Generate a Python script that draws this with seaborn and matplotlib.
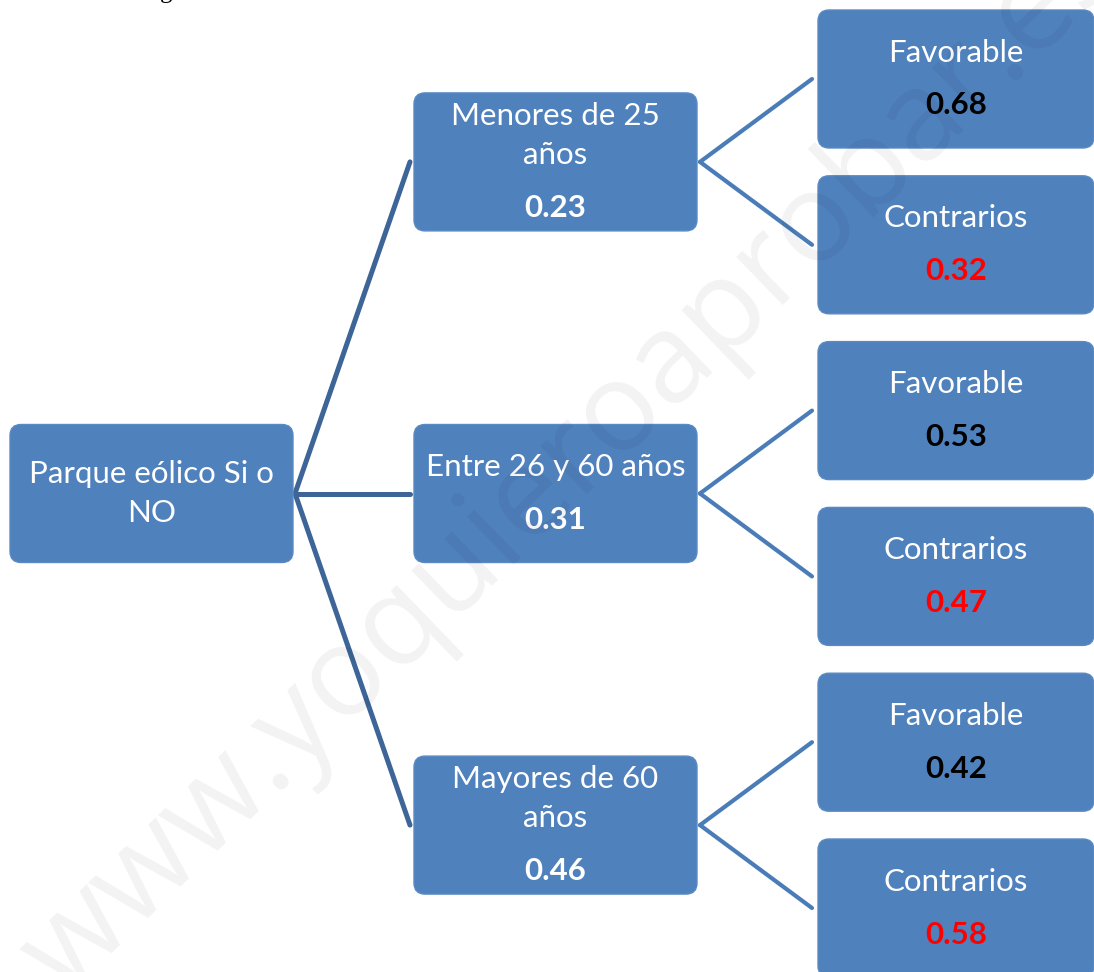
import numpy as np
import pandas as pd
import seaborn as sns
import matplotlib.pyplot as plt
from matplotlib.patches import FancyBboxPatch

# tree data
root_label = ["Parque eólico Si o", "NO"]
group_labels = [["Menores de 25", "años"], ["Entre 26 y 60 años"], ["Mayores de 60", "años"]]
group_probs = [0.23, 0.31, 0.46]
branch_labels = ["Favorable", "Contrarios"]
branch_probs = [[0.68, 0.32], [0.53, 0.47], [0.42, 0.58]]
branch_colors = ["black", "red"]

# layout (pixels)
W, H = 1094, 972
col_left = [10, 414, 818]
col_width = [283, 283, 276]
box_h = 138
leaf_step = 165.8
leaf_top0 = 10
box_color = "#4f81bd"
font = ["Lato", "DejaVu Sans"]

sns.set_theme(style="white")
plt.rcParams["font.family"] = font

fig = plt.figure(figsize=(W / 100, H / 100), dpi=100)
ax = fig.add_axes([0, 0, 1, 1])


def draw_box(col, cy, lines, value=None, value_color="white"):
    x0 = col_left[col]
    ax.add_patch(FancyBboxPatch((x0, cy - box_h / 2), col_width[col], box_h,
                                boxstyle="round,pad=0,rounding_size=11",
                                fc=box_color, ec="#5a8ac4", lw=1, zorder=2))
    offs = [i * 39 for i in range(len(lines))]
    if value is not None:
        offs.append(offs[-1] + 53)
    shift = (offs[0] + offs[-1]) / 2
    cx = x0 + col_width[col] / 2
    for i, ln in enumerate(lines):
        ax.text(cx, cy + offs[i] - shift, ln, ha="center", va="center",
                color="white", fontsize=22.5, zorder=3)
    if value is not None:
        ax.text(cx, cy + offs[-1] - shift, f"{value:.2f}", ha="center", va="center",
                color=value_color, fontsize=22.5, fontweight="bold", zorder=3)


leaf_cy = [leaf_top0 + leaf_step * i + box_h / 2 for i in range(6)]
group_cy = [(leaf_cy[2 * g] + leaf_cy[2 * g + 1]) / 2 for g in range(3)]
root_cy = group_cy[1]

edges1, edges2 = [], []
for g in range(3):
    edges1 += [{"edge": g, "x": col_left[0] + col_width[0] + 2, "y": root_cy},
               {"edge": g, "x": col_left[1] - 4, "y": group_cy[g]}]
    for b in range(2):
        e = g * 2 + b
        edges2 += [{"edge": e, "x": col_left[1] + col_width[1] + 3, "y": group_cy[g]},
                   {"edge": e, "x": col_left[2] - 6, "y": leaf_cy[e]}]
edges1 = pd.DataFrame(edges1)
edges2 = pd.DataFrame(edges2)

sns.lineplot(data=edges1, x="x", y="y", units="edge", estimator=None, sort=False,
             color="#3d6598", linewidth=3.6, ax=ax, zorder=1)
sns.lineplot(data=edges2, x="x", y="y", units="edge", estimator=None, sort=False,
             color="#4a7cb8", linewidth=3.0, ax=ax, zorder=1)

draw_box(0, root_cy, root_label)
for g in range(3):
    draw_box(1, group_cy[g], group_labels[g], group_probs[g])
    for b in range(2):
        draw_box(2, leaf_cy[2 * g + b], [branch_labels[b]], branch_probs[g][b], branch_colors[b])

# watermark
ax.text(572, 462, "www.yoquieroaprobar.es", rotation=44, rotation_mode="anchor",
        ha="center", va="center", fontsize=90, color="black", alpha=0.05,
        family=["Open Sans", "DejaVu Sans"], zorder=5)

# fragment of the previous line of text, cut by the top edge
ax.text(166, -2, "g", ha="center", va="baseline", fontsize=18,
        family=["Liberation Serif"], color="black")

ax.set_xlim(0, W)
ax.set_ylim(H, 0)
ax.axis("off")

plt.savefig("out.png", dpi=100)
